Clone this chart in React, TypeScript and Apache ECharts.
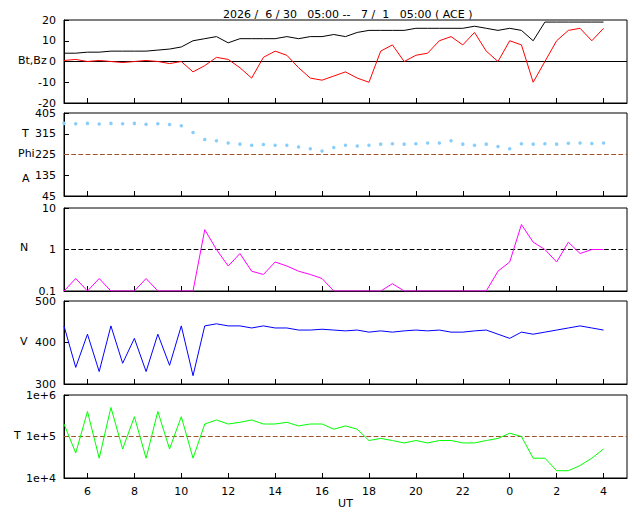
import * as echarts from "echarts";
import { useEffect, useRef } from "react";

// values every 30 min from 05:00 (6/30) to 04:00 (7/1)
const bt = [4,4,4.5,4.5,5,5,5,5,5.5,6,7,10,11,12,9,11,11,11,11,12,11,12,12,13,12,14,15,15,15,15,16,16,16,16,16,17,16,15,16,15,10,19,19,19,19,19,19];
const bz = [0.5,1,0,0.5,0,-0.5,0,0.5,0,-1,0,-5,-2,2,1,-3,-8,2,5,3,-3,-8,-9,-7,-5,-8,-10,5,8,0,3,4,10,12,8,14,5,0,10,8,-10,0,10,15,16,10,16];
const phi = [360,358,360,357,360,358,360,356,358,355,350,320,290,285,275,270,265,268,265,265,258,250,240,255,265,262,265,270,272,270,272,275,275,285,270,265,270,260,250,272,270,272,270,274,275,273,275];
const dens = [0.1,0.2,0.1,0.2,0.1,0.1,0.1,0.2,0.1,0.1,0.1,0.1,3,1,0.4,0.8,0.3,0.25,0.5,0.4,0.3,0.25,0.2,0.1,0.1,0.1,0.1,0.1,0.15,0.1,0.1,0.1,0.1,0.1,0.1,0.1,0.1,0.3,0.5,4,1.5,1,0.5,1.5,0.8,1,1];
const speed = [440,340,420,330,440,350,410,330,420,345,440,320,440,445,440,440,435,440,435,435,430,430,432,430,428,430,425,428,425,428,430,428,430,425,425,428,430,420,410,425,420,425,430,435,440,435,430];
const temp = [2e5,4e4,4e5,3e4,5e5,5e4,3e5,3e4,4e5,5e4,3e5,3e4,2e5,2.5e5,2e5,2.2e5,2.5e5,2e5,2e5,2.2e5,1.8e5,2e5,2e5,1.5e5,1.8e5,1.5e5,8e4,9e4,8e4,7e4,8e4,7e4,8e4,8e4,7e4,7e4,8e4,9e4,1.2e5,1e5,3e4,3e4,1.5e4,1.5e4,2e4,3e4,5e4];
const hourTicks = [6,8,10,12,14,16,18,20,22,24,26,28];

const F = "DejaVu Sans";
const tops = [20, 113, 208, 301, 395];
const H = 83;
const pts = (v: number[]) => v.map((y, i) => [5 + i * 0.5, y]);

export default function App() {
  const ref = useRef<HTMLDivElement | null>(null);
  useEffect(() => {
    if (!ref.current) return;
    const chart = echarts.init(ref.current, undefined, { renderer: "svg" });
    const grids = tops.map((t) => ({ left: 64, right: 13, top: t, height: H, show: true, borderColor: "#000", borderWidth: 1 }));
    const xAxes = tops.map((_, i) => ({
      type: "value", gridIndex: i, min: 5, max: 29,
      axisLine: { show: true, onZero: false, lineStyle: { color: "#000" } },
      axisTick: { show: true, inside: true, length: 5, customValues: hourTicks, lineStyle: { color: "#000" } },
      axisLabel: { show: i === 4, customValues: hourTicks, formatter: (v: number) => String(v % 24), color: "#000", fontFamily: F, fontSize: 11 },
      splitLine: { show: false },
      name: i === 4 ? "UT" : "", nameLocation: "middle", nameGap: 20,
      nameTextStyle: { fontFamily: F, fontSize: 11, color: "#000" },
    }));
    const yBase = { axisLine: { show: true, lineStyle: { color: "#000" } }, axisTick: { inside: true, length: 5, lineStyle: { color: "#000" } }, splitLine: { show: false }, axisLabel: { color: "#000", fontFamily: F, fontSize: 11 } };
    const yAxes = [
      { ...yBase, type: "value", gridIndex: 0, min: -20, max: 20, interval: 10 },
      { ...yBase, type: "value", gridIndex: 1, min: 45, max: 405, interval: 90 },
      { ...yBase, type: "log", gridIndex: 2, min: 0.1, max: 10, logBase: 10 },
      { ...yBase, type: "value", gridIndex: 3, min: 300, max: 500, interval: 100 },
      { ...yBase, type: "log", gridIndex: 4, min: 1e4, max: 1e6, logBase: 10, axisLabel: { ...yBase.axisLabel, formatter: (v: number) => "1e+" + Math.round(Math.log10(v)) } },
    ];
    const ref_ = (i: number, y: number, color: string, type: any = "dashed") => ({
      type: "line", xAxisIndex: i, yAxisIndex: i, data: [[5, y], [29, y]], symbol: "none", silent: true,
      lineStyle: { color, width: 1.2, type },
    });
    const line = (i: number, data: number[], color: string, extra: any = {}) => ({
      type: "line", xAxisIndex: i, yAxisIndex: i, data: pts(data), symbol: "none", lineStyle: { color, width: 1 }, ...extra,
    });
    const yl = (text: string, y: number, x = 18) => ({ type: "text", left: x, top: y - 7, style: { text, font: `11px "${F}"`, fill: "#000" } });
    chart.setOption({
      animation: false,
      title: { text: "2026 /  6 / 30   05:00 --   7 /  1   05:00 ( ACE )", left: 218, top: 4, textStyle: { fontFamily: F, fontSize: 11, fontWeight: "normal", color: "#000" } },
      grid: grids, xAxis: xAxes, yAxis: yAxes,
      series: [
        ref_(0, 0, "#000", "solid"),
        line(0, bt, "#000"),
        line(0, bz, "#ff0000"),
        ref_(1, 225, "#a0522d"),
        line(1, phi, "#87cefa", { lineStyle: { width: 0 }, symbol: "circle", symbolSize: 3.5, itemStyle: { color: "#87cefa" } }),
        ref_(2, 1, "#000"),
        line(2, dens, "#ff00ff"),
        line(3, speed, "#0000ff"),
        ref_(4, 1e5, "#a0522d"),
        line(4, temp, "#00ff00"),
      ],
      graphic: [yl("Bt,Bz", 62), yl("T", 135, 22), yl("Phi", 155), yl("A", 180, 22), yl("N", 249, 20), yl("V", 343, 20), yl("T", 437, 14)],
    });
    return () => chart.dispose();
  }, []);
  return <div ref={ref} style={{ width: 640, height: 512, position: "absolute", left: 0, top: 0 }} />;
}
